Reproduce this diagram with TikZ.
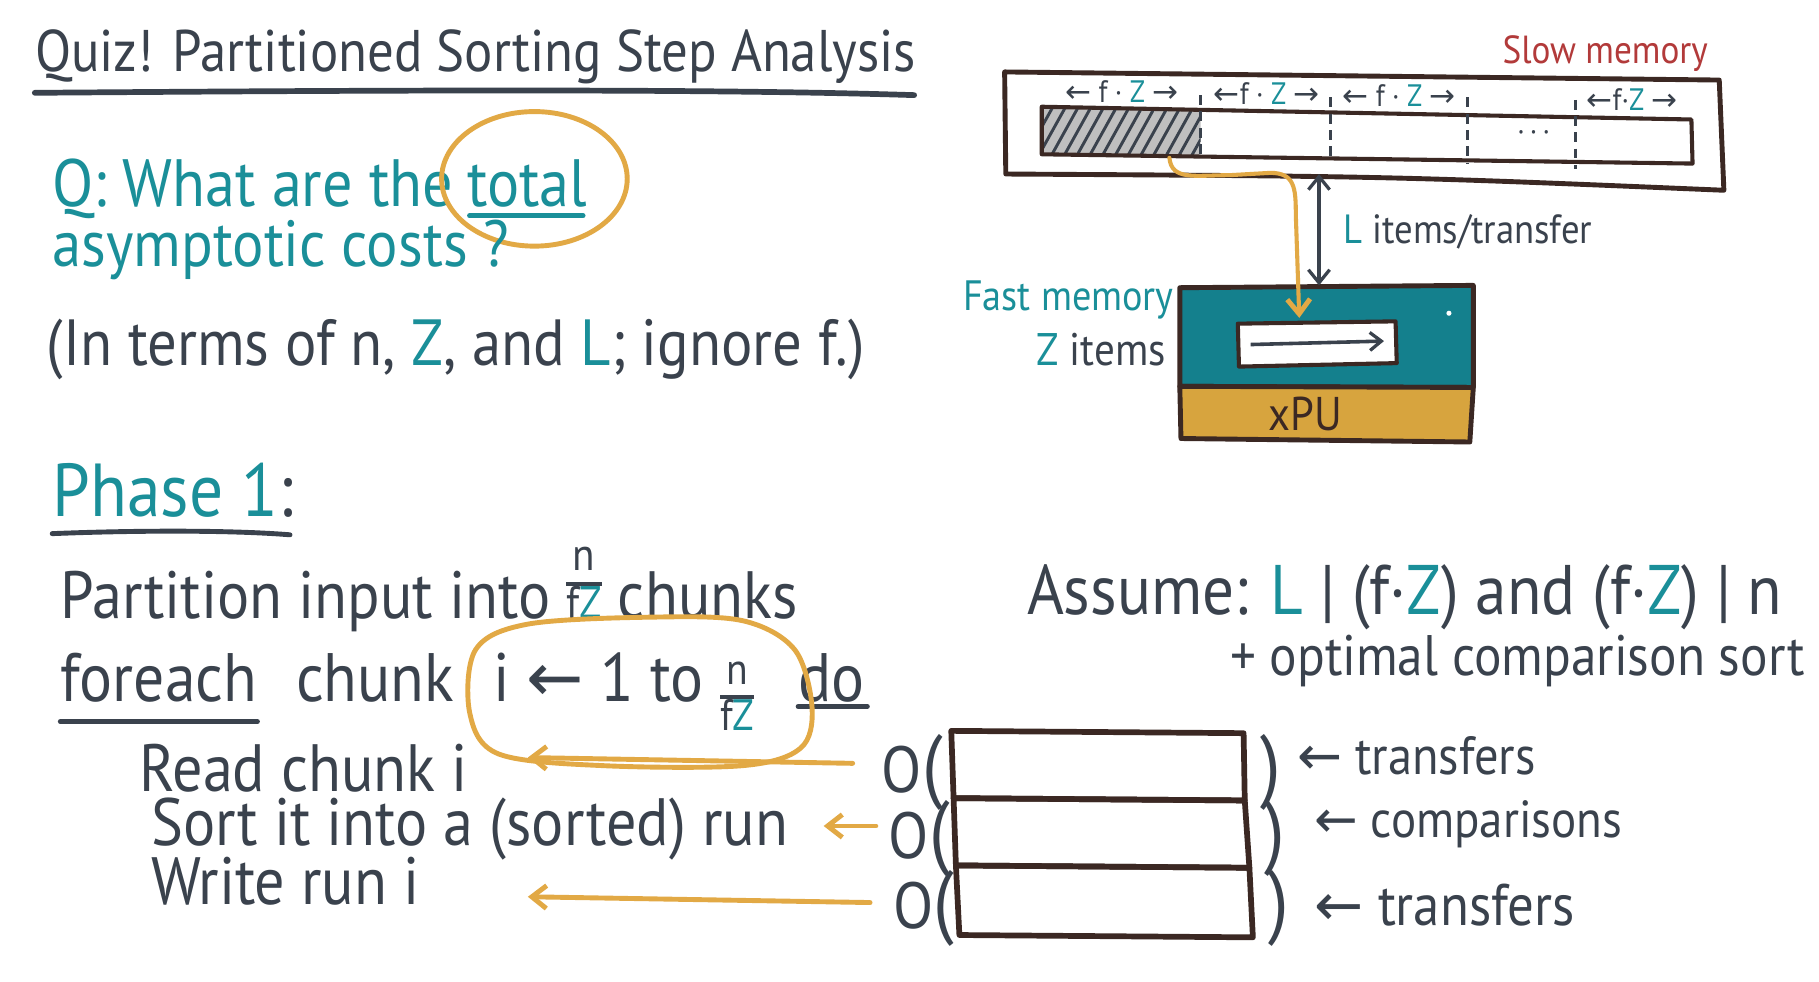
\documentclass[tikz,border=0pt]{standalone}
\usepackage{fontspec}
\setmainfont{PT Sans}[FakeStretch=0.9]
\newfontfamily\symfont{DejaVu Sans}
\usetikzlibrary{arrows.meta,calc}

\definecolor{ink}{HTML}{3A424D}
\definecolor{tealc}{HTML}{1A8F99}
\definecolor{tealbox}{HTML}{14808D}
\definecolor{gold}{HTML}{E2A945}
\definecolor{cpufill}{HTML}{D7A43E}
\definecolor{slowred}{HTML}{B23A3A}
\definecolor{brownline}{HTML}{3B2823}

\newcommand{\fsz}[1]{\fontsize{#1}{#1}\selectfont}
\newcommand{\tz}[1]{\textcolor{tealc}{#1}}
\newcommand{\larr}{{\symfont ←}}
\newcommand{\rarr}{{\symfont →}}
% n over fZ, #1 = size, #2 = vertical shift
\newcommand{\nfzfrac}[2]{\raisebox{#2}{\fsz{#1}\setlength{\arrayrulewidth}{2.4pt}\renewcommand{\arraystretch}{0.85}\begin{tabular}{@{}c@{}}n\\\hline f\tz{Z}\end{tabular}}}

\tikzset{
  tx/.style={inner sep=0pt, anchor=base west, text=ink},
  inkline/.style={draw=ink, line width=3pt, line cap=round},
  goldline/.style={draw=gold, line width=3pt, line cap=round},
  goldarrow/.style={goldline, -{Straight Barb[length=9pt,width=14pt,line width=3pt]}},
  boxline/.style={draw=brownline, line width=3pt, line join=round},
  seglabel/.style={inner sep=0pt, anchor=base, text=ink, font=\fsz{19}},
}

\begin{document}
\begin{tikzpicture}[x=0.025cm, y=-0.025cm]
\fill[white] (0,0) rectangle (1568,846.4);
\useasboundingbox (0,0) rectangle (1568,846.4);

% ---------- title ----------
\node[tx, font=\fsz{36}] (title) at (30,62) {Quiz! Partitioned Sorting Step Analysis};
\draw[inkline, line width=3.5pt] (30,80) .. controls (300,78) and (600,76) .. (788,82);

% ---------- question ----------
\node[tx, text=tealc, font=\fsz{41}] (q1) at (45,178) {Q: What are the};
\node[tx, text=tealc, font=\fsz{41}] (total) at ($(q1.base east)+(12,0)$) {total};
\draw[draw=tealc, line width=3pt, line cap=round] ($(total.base west)+(2,8)$) -- ($(total.base east)+(-4,8)$);
\draw[goldline] ($(total.center)+(6,-4)$) ellipse [x radius=80, y radius=58];
\node[tx, text=tealc, font=\fsz{40}] (q2) at (45,230) {asymptotic costs ?};
\node[tx, font=\fsz{40}] (q3) at (40,315) {(In terms of n, \tz{Z}, and \tz{L}; ignore f.)};

% ---------- phase 1 ----------
\node[tx, text=tealc, font=\fsz{46}] (phase) at (45,445) {Phase 1\textcolor{ink}{:}};
\draw[inkline] (45,460) .. controls (120,457) and (200,457) .. (250,461);

\node[tx, font=\fsz{41}] (part) at (52,533) {Partition input into \nfzfrac{28}{13pt} chunks};

\node[tx, font=\fsz{42}] (fekw) at (52,605) {foreach};
\draw[inkline] ($(fekw.base west)+(0,17)$) -- ($(fekw.base east)+(0,17)$);
\node[tx, font=\fsz{42}] (chunkkw) at (255,605) {chunk};
\node[tx, font=\fsz{42}] (rng) at (425,605) {i \larr{} 1 to \nfzfrac{27}{-5pt}};
\node[tx, font=\fsz{42}] (dokw) at (688,605) {do};
\draw[inkline] ($(dokw.base west)+(0,4)$) -- ($(dokw.base east)+(2,4)$);
\draw[goldline] plot[smooth cycle, tension=0.55] coordinates {
  (410,560) (455,538) (560,532) (640,535) (685,560) (700,610)
  (690,645) (640,660) (520,660) (430,650) (405,615)};

\node[tx, font=\fsz{41}] (read) at (120,682) {Read chunk i};
\node[tx, font=\fsz{41}] (sort) at (130,729) {Sort it into a (sorted) run};
\node[tx, font=\fsz{41}] (write) at (130,780) {Write run i};

% ---------- answer boxes ----------
\node[tx, font=\fsz{40}] (o1) at (760,683) {O\fsz{50}(};
\node[tx, font=\fsz{40}] (o2) at (766,740) {O\fsz{50}(};
\node[tx, font=\fsz{40}] (o3) at (770,800) {O\fsz{50}(};
\draw[boxline, line width=3.5pt] (820,630) -- (1072,632) -- (1073,690) -- (822,688) -- cycle;
\draw[boxline, line width=3.5pt] (822,688) -- (1073,690) -- (1077,748) -- (824,746) -- cycle;
\draw[boxline, line width=3.5pt] (824,746) -- (1077,748) -- (1080,808) -- (827,806) -- cycle;
\node[tx, font=\fsz{50}] (c1) at (1086,683) {)};
\node[tx, font=\fsz{50}] (c2) at (1090,740) {)};
\node[tx, font=\fsz{50}] (c3) at (1093,800) {)};
\node[tx, font=\fsz{33}] (t1) at (1118,668) {\larr\ transfers};
\node[tx, font=\fsz{32}] (t2) at (1133,722) {\larr\ comparisons};
\node[tx, font=\fsz{36}] (t3) at (1133,798) {\larr\ transfers};

\coordinate (a1s) at (735,658);
\coordinate (a1e) at (455,653);
\coordinate (a2s) at (755,712);
\coordinate (a2e) at (710,712);
\coordinate (a3s) at (750,778);
\coordinate (a3e) at (455,773);
\draw[goldarrow] (a1s) -- (a1e);
\draw[goldarrow] (a2s) -- (a2e);
\draw[goldarrow] (a3s) -- (a3e);

% ---------- assumptions ----------
\node[tx, font=\fsz{43}] (assume) at (885,530) {Assume: \tz{L} | (f·\tz{Z}) and (f·\tz{Z}) | n};
\node[tx, font=\fsz{35}] (opt) at (1060,582) {+ optimal comparison sort};

% ---------- slow memory ----------
\node[tx, text=slowred, font=\fsz{24}] (slowlbl) at (1295,55) {Slow memory};
\draw[boxline] (866,62) -- (1482,69) -- (1486,164) .. controls (1200,152) .. (867,150) -- cycle;
\fill[black!25] (898,92) -- (1035,95) -- (1035,134) -- (898,133) -- cycle;
\begin{scope}
  \clip (898,92) -- (1035,95) -- (1035,134) -- (898,133) -- cycle;
  \foreach \i in {0,...,16} \draw[ink, line width=1.8pt] (870+\i*11,140) -- (900+\i*11,86);
\end{scope}
\draw[boxline, line width=2.5pt] (898,92) -- (1458,103) -- (1459,141) -- (898,133) -- cycle;
\foreach \xx/\ya/\yb in {1035/82/137, 1147/84/139, 1265/84/141, 1358/86/146}
  \draw[ink, line width=1.6pt, dash pattern=on 6pt off 4pt] (\xx,\ya) -- (\xx,\yb);
\node[seglabel] (seg1) at (967,88) {\larr\ f · \tz{Z} \rarr};
\node[seglabel] (seg2) at (1092,90) {\larr f · \tz{Z} \rarr};
\node[seglabel] (seg3) at (1206,92) {\larr\ f · \tz{Z} \rarr};
\node[seglabel] (seg4) at (1407,95) {\larr f·\tz{Z} \rarr};
\node[seglabel] (dots) at (1322,122) {·\,·\,·};

% ---------- fast memory and processor ----------
\filldraw[fill=tealbox, boxline] (1017,248) -- (1270,246) -- (1270,334) -- (1017,333) -- cycle;
\filldraw[fill=cpufill, boxline] (1017,333) -- (1270,334) -- (1267,381) -- (1018,378) -- cycle;
\node[inner sep=0pt, text=brownline, font=\fsz{29}] (xpu) at (1125,357) {xPU};
\filldraw[fill=white, boxline, line width=2.5pt] (1067,279) -- (1203,277) -- (1204,313) -- (1068,316) -- cycle;
\coordinate (runL) at (1078,297);
\coordinate (runR) at (1193,294);
\draw[ink, line width=2.2pt, -{Straight Barb[length=7pt,width=11pt,line width=2pt]}] (runL) -- (runR);
\fill[white] (1249,270) circle (2.2);

\node[tx, text=tealc, font=\fsz{26}] (fastlbl) at (830,268) {Fast memory};
\node[tx, font=\fsz{28}] (zitems) at (893,315) {\tz{Z} items};

% ---------- transfers between the memories ----------
\coordinate (hatchsrc) at (1008,136);
\coordinate (fastin) at (1120,274);
\draw[goldarrow, line width=2.5pt] (hatchsrc) .. controls (1010,156) and (1030,151) .. (1060,151)
  -- (1095,149) .. controls (1116,149) and (1117,162) .. (1117,185) -- (fastin);
\coordinate (slowbot) at (1137,150);
\coordinate (fasttop) at (1137,246);
\draw[ink, line width=2.2pt, {Straight Barb[length=8pt,width=13pt,line width=2pt]}-{Straight Barb[length=8pt,width=13pt,line width=2pt]}] (slowbot) -- (fasttop);
\node[tx, font=\fsz{25}] (llbl) at (1158,210) {\tz{L} items/transfer};
\end{tikzpicture}
\end{document}
